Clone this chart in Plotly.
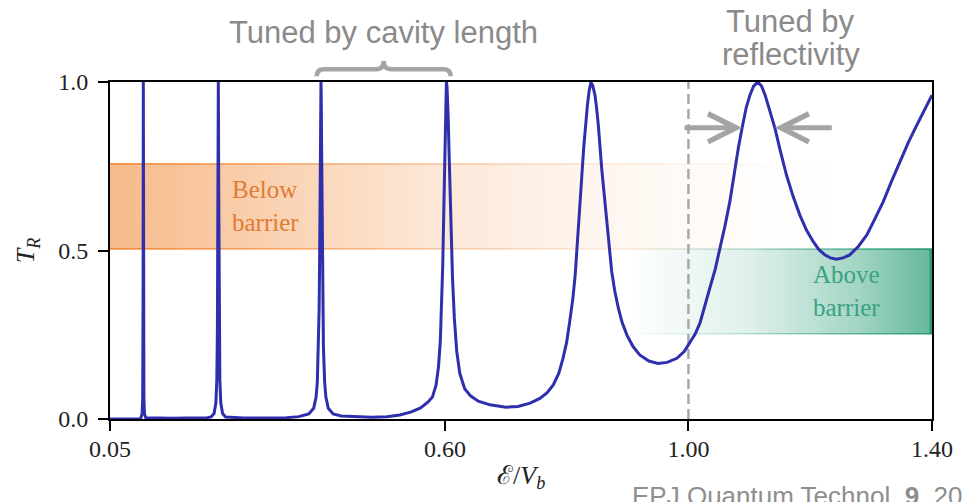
import numpy as np
import plotly.graph_objects as go

# Resonant transmission T_R against normalised energy E/V_b
energy = [
    0.050, 0.100, 0.1007, 0.1027, 0.1037, 0.1041, 0.1044, 0.1047, 0.1050, 0.1053, 0.1057, 0.1067, 0.1087,
    0.150, 0.190, 0.210,
    0.2159, 0.2209, 0.2239, 0.2254, 0.2264, 0.2269, 0.2273, 0.2276, 0.2279, 0.2282, 0.2285, 0.2289,
    0.2294, 0.2304, 0.2319, 0.2349, 0.2399,
    0.270, 0.310, 0.340, 0.360, 0.372,
    0.3765, 0.3845, 0.3885, 0.3905, 0.3925, 0.3935, 0.3945, 0.3950, 0.3955, 0.3960, 0.3965, 0.3970,
    0.3975, 0.3980, 0.3985, 0.3995, 0.4005, 0.4025, 0.4045, 0.4085, 0.4165,
    0.430, 0.455, 0.480, 0.505, 0.526, 0.545, 0.560, 0.572,
    0.5795, 0.5855, 0.5895, 0.5925, 0.5945, 0.5965, 0.5980, 0.5995, 0.6005, 0.6015, 0.6025,
    0.6035, 0.6045, 0.6055, 0.6070, 0.6085, 0.6105, 0.6125, 0.6155, 0.6195, 0.6245, 0.6325, 0.6425,
    0.655, 0.674, 0.700, 0.720, 0.740, 0.756, 0.768, 0.778, 0.787, 0.794, 0.800, 0.805, 0.810, 0.814,
    0.819, 0.822, 0.825, 0.828, 0.831, 0.834, 0.837, 0.840, 0.843, 0.8465, 0.849, 0.852, 0.8575,
    0.862, 0.866, 0.870, 0.874, 0.879, 0.885, 0.891, 0.899, 0.909, 0.920, 0.935, 0.950, 0.965,
    0.981, 0.993, 1.003, 1.011, 1.019, 1.027, 1.035, 1.044, 1.052, 1.060, 1.068, 1.076, 1.082,
    1.088, 1.095, 1.101, 1.107, 1.114, 1.120, 1.126, 1.134, 1.142, 1.151, 1.161, 1.172, 1.183,
    1.194, 1.205, 1.214, 1.224, 1.233, 1.243, 1.254, 1.265, 1.279, 1.293, 1.306, 1.320, 1.333,
    1.347, 1.361, 1.375, 1.388, 1.400,
]
transmission = [
    0.000, 0.001, 0.004, 0.015, 0.059, 0.148, 0.410, 1.000, 0.410, 0.148, 0.059, 0.015, 0.004,
    0.002, 0.003, 0.004,
    0.006, 0.016, 0.048, 0.115, 0.265, 0.447, 0.690, 0.900, 1.000, 0.900, 0.690, 0.447,
    0.265, 0.115, 0.048, 0.016, 0.006,
    0.003, 0.003, 0.004, 0.007, 0.012,
    0.015, 0.032, 0.066, 0.110, 0.216, 0.329, 0.524, 0.662, 0.815, 0.946, 1.000, 0.946,
    0.815, 0.662, 0.524, 0.329, 0.216, 0.110, 0.066, 0.032, 0.015,
    0.009, 0.006, 0.005, 0.007, 0.012, 0.021, 0.033, 0.050,
    0.065, 0.100, 0.155, 0.232, 0.321, 0.457, 0.599, 0.771, 0.883, 0.968, 1.000,
    0.986, 0.948, 0.889, 0.781, 0.667, 0.530, 0.419, 0.300, 0.200, 0.135, 0.090, 0.068,
    0.053, 0.042, 0.035, 0.037, 0.047, 0.061, 0.078, 0.101, 0.135, 0.180, 0.228, 0.289, 0.355, 0.427,
    0.576, 0.650, 0.724, 0.805, 0.872, 0.930, 0.975, 1.000, 0.988, 0.961, 0.925, 0.872, 0.744,
    0.655, 0.576, 0.503, 0.437, 0.380, 0.328, 0.287, 0.249, 0.215, 0.190, 0.172, 0.165, 0.168,
    0.180, 0.200, 0.229, 0.252, 0.285, 0.333, 0.388, 0.445, 0.505, 0.573, 0.645, 0.740, 0.805,
    0.863, 0.925, 0.961, 0.988, 1.000, 0.988, 0.961, 0.915, 0.863, 0.795, 0.724, 0.660, 0.605,
    0.560, 0.526, 0.503, 0.487, 0.478, 0.474, 0.478, 0.487, 0.512, 0.546, 0.593, 0.645, 0.703,
    0.763, 0.820, 0.872, 0.918, 0.961,
]

x_ticks = [0.05, 0.60, 1.00, 1.40]
x_tick_text = ["0.05", "0.60", "1.00", "1.40"]
y_ticks = [0.0, 0.5, 1.0]
y_tick_text = ["0.0", "0.5", "1.0"]

barrier_energy = 1.00          # E = V_b
below_band = [0.505, 0.757]    # T_R span of the below-barrier band
above_band = [0.253, 0.504]    # T_R span of the above-barrier band
width_level = 0.864            # T_R level at which the peak width is marked

x_range = [0.05, 1.40]

E = np.array(energy)
T = np.array(transmission)

# full-transmission resonances
peaks = E[T >= 0.999]

SERIF = "Liberation Serif"
SANS = "Liberation Sans"
GREY = "#A4A4A4"
TEXT_GREY = "#8A8A8A"
CURVE = "#2F2FAE"
INK = "#222222"


def band(x0, x1, y0, y1, stops, rgb):
    scale = [[s, f"rgba({rgb},{a})"] for s, a in stops]
    return go.Scatter(
        x=[x0, x1, x1, x0, x0], y=[y0, y0, y1, y1, y0],
        mode="none", fill="toself",
        fillgradient=dict(type="horizontal", colorscale=scale, start=x0, stop=x1),
        hoverinfo="skip", showlegend=False,
    )


ORANGE = "240,128,40"
TEAL = "40,156,118"
orange_stops = [(0, 0.55), (0.22, 0.36), (0.46, 0.18), (0.67, 0.07), (0.87, 0.02), (1, 0.0)]
orange_edge = [(0, 0.85), (0.22, 0.6), (0.46, 0.35), (0.67, 0.15), (0.87, 0.04), (1, 0.0)]
teal_stops = [(0, 0.0), (0.4, 0.15), (0.75, 0.42), (1, 0.72)]
teal_edge = [(0, 0.0), (0.4, 0.3), (0.75, 0.7), (1, 1.0)]

edge = 0.0025
fig = go.Figure()
fig.add_trace(band(x_range[0], 1.25, below_band[0], below_band[1], orange_stops, ORANGE))
for yb in below_band:
    fig.add_trace(band(x_range[0], 1.25, yb - edge, yb + edge, orange_edge, ORANGE))
fig.add_trace(band(0.90, x_range[1], above_band[0], above_band[1], teal_stops, TEAL))
for yb in above_band:
    fig.add_trace(band(0.90, x_range[1], yb - edge, yb + edge, teal_edge, TEAL))
fig.add_trace(band(x_range[1] - 0.004, x_range[1], above_band[0], above_band[1],
                   [(0, 1.0), (1, 1.0)], TEAL))

# barrier height
fig.add_trace(go.Scatter(
    x=[barrier_energy, barrier_energy], y=[0, 1], mode="lines",
    line=dict(color="#A9A9A9", width=2.5, dash="10px,5px"),
    hoverinfo="skip", showlegend=False,
))

# transmission curve
fig.add_trace(go.Scatter(
    x=energy, y=transmission, mode="lines",
    line=dict(color=CURVE, width=3),
    hoverinfo="skip", showlegend=False,
))

annotations = []

# brace over the two cavity-length resonances
span = x_range[1] - x_range[0]
to_paper = lambda x: (x - x_range[0]) / span
xl = to_paper(peaks[2] - 0.007)
xr = to_paper(peaks[3] + 0.007)
xm = 0.5 * (xl + xr)
r = 0.012 / span
y_end, y_bar, y_tip = 1.017, 1.038, 1.062
brace = (f"M {xl},{y_end} Q {xl},{y_bar} {xl + r},{y_bar} L {xm - r},{y_bar} "
         f"Q {xm},{y_bar} {xm},{y_tip} Q {xm},{y_bar} {xm + r},{y_bar} "
         f"L {xr - r},{y_bar} Q {xr},{y_bar} {xr},{y_end}")
shapes = [dict(type="path", path=brace, xref="paper", yref="paper",
               line=dict(color=GREY, width=4.5))]

annotations.append(dict(
    text="Tuned by cavity length", xref="paper", yref="paper",
    x=xm, y=1.146, xanchor="center", yanchor="middle", showarrow=False,
    font=dict(family=SANS, size=31, color=TEXT_GREY),
))

# arrows marking the width of the resonance above the barrier
top = peaks[-1]
rise = (E < top) & (E > barrier_energy)
left_tip = np.interp(width_level, T[rise], E[rise])
fall = (E > top) & (E < 1.25)
right_tip = np.interp(width_level, T[fall][::-1], E[fall][::-1])
for tip, tail in [(left_tip, left_tip - 0.097), (right_tip, right_tip + 0.096)]:
    annotations.append(dict(
        x=tip, y=width_level, ax=tail, ay=width_level,
        xref="x", yref="y", axref="x", ayref="y",
        text="", showarrow=True, arrowhead=5, arrowsize=1.1, arrowwidth=5,
        arrowcolor=GREY, standoff=0,
    ))

annotations.append(dict(
    text="Tuned by", xref="x", yref="paper", x=1.168, y=1.180,
    xanchor="center", yanchor="middle", showarrow=False,
    font=dict(family=SANS, size=31, color=TEXT_GREY),
))
annotations.append(dict(
    text="reflectivity", xref="x", yref="paper", x=1.168, y=1.081,
    xanchor="center", yanchor="middle", showarrow=False,
    font=dict(family=SANS, size=31, color=TEXT_GREY),
))

annotations.append(dict(
    text="Below<br>barrier", xref="x", yref="y", x=0.247,
    y=0.5 * (below_band[0] + below_band[1]),
    xanchor="left", yanchor="middle", align="left", showarrow=False,
    font=dict(family=SERIF, size=25, color="#E07B35"),
))
annotations.append(dict(
    text="Above<br>barrier", xref="x", yref="y", x=1.202,
    y=0.5 * (above_band[0] + above_band[1]),
    xanchor="left", yanchor="middle", align="left", showarrow=False,
    font=dict(family=SERIF, size=25, color="#3AA282"),
))

# x-axis title, placed directly below the tick labels
annotations.append(dict(
    text="ℰ/<i>V</i><sub><i>b</i></sub>", xref="paper", yref="paper",
    x=0.5, y=-0.172, xanchor="center", yanchor="middle", showarrow=False,
    font=dict(family=SERIF, size=26, color=INK),
))

annotations.append(dict(
    text="EPJ Quantum Technol. <b>9</b>, 20", xref="paper", yref="paper",
    x=0.633, y=-0.178, xanchor="left", yanchor="top", showarrow=False,
    font=dict(family=SANS, size=26, color="#8E8E8E"),
))

axis_common = dict(
    showline=True, linecolor="black", linewidth=2, mirror=True,
    ticks="outside", ticklen=10, tickwidth=2, tickcolor="black",
    showgrid=False, zeroline=False, automargin=False,
    tickfont=dict(family=SERIF, size=24, color=INK),
)

fig.update_layout(
    width=974, height=502,
    margin=dict(l=110, r=42, t=82, b=83, autoexpand=False),
    paper_bgcolor="white", plot_bgcolor="white",
    showlegend=False,
    xaxis=dict(
        range=x_range, tickvals=x_ticks, ticktext=x_tick_text,
        ticklabelstandoff=-3,
        **axis_common,
    ),
    yaxis=dict(
        range=[0, 1], tickvals=y_ticks, ticktext=y_tick_text,
        ticklabelstandoff=5,
        title=dict(text="<i>T</i><sub><i>R</i></sub>", standoff=16,
                   font=dict(family=SERIF, size=26, color=INK)),
        **axis_common,
    ),
    annotations=annotations,
    shapes=shapes,
)

fig.write_html("out.html")
